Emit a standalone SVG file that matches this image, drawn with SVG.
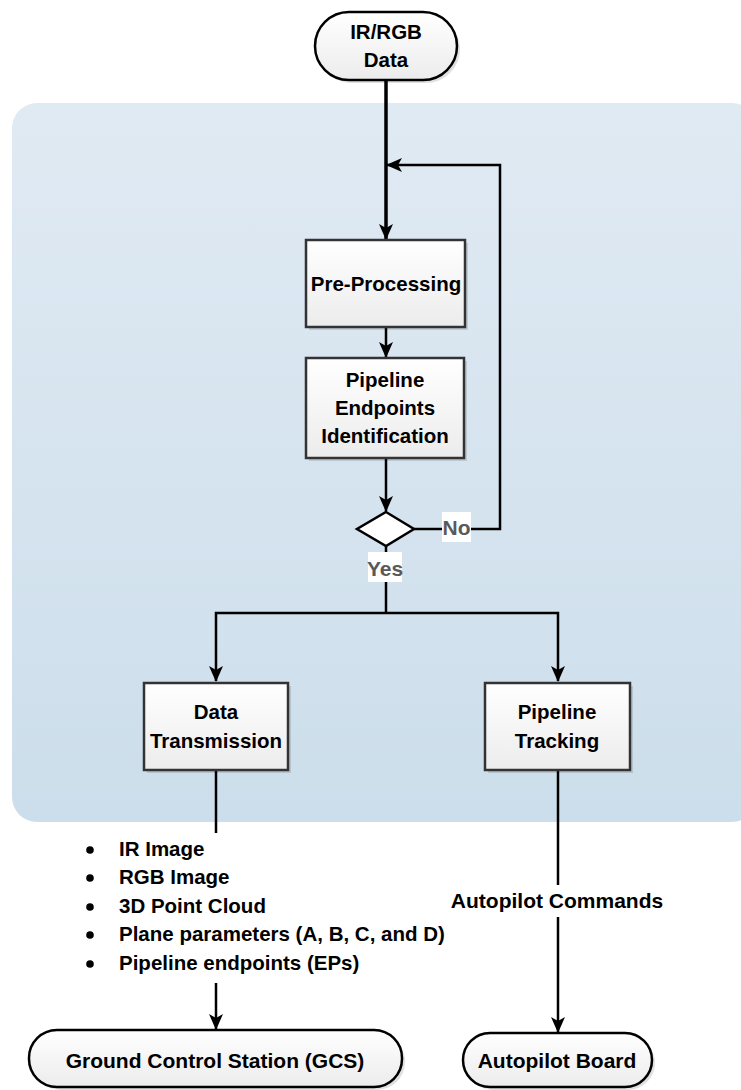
<svg xmlns="http://www.w3.org/2000/svg" width="741" height="1090" viewBox="0 0 741 1090">
  <defs>
    <linearGradient id="panelFill" x1="0" y1="0" x2="0" y2="1">
      <stop offset="0" stop-color="#e0eaf3"/>
      <stop offset="1" stop-color="#ccdeeb"/>
    </linearGradient>
    <linearGradient id="nodeFill" x1="0" y1="0" x2="0" y2="1">
      <stop offset="0" stop-color="#ffffff"/>
      <stop offset="1" stop-color="#ececec"/>
    </linearGradient>
    <marker id="arrow" markerUnits="userSpaceOnUse" markerWidth="16" markerHeight="14" viewBox="0 0 16 14" refX="15" refY="7" orient="auto">
      <path d="M0,0 L16,7 L0,14 L4,7 Z" fill="#000"/>
    </marker>
  </defs>
  <style>
    .box { fill: url(#nodeFill); stroke: #333; stroke-width: 2.5; }
    .term { fill: url(#nodeFill); stroke: #000; stroke-width: 2.5; }
    .shadow { fill: #000; opacity: 0.12; }
    .label { font-family: "Liberation Sans", Arial, sans-serif; font-weight: bold; font-size: 20.5px; fill: #000; text-anchor: middle; }
    .big { font-size: 21px; }
    .cond { font-family: "Liberation Sans", Arial, sans-serif; font-weight: bold; font-size: 21px; fill: #595959; text-anchor: middle; }
    .list { font-family: "Liberation Sans", Arial, sans-serif; font-weight: bold; font-size: 20.5px; fill: #000; }
    .wire { fill: none; stroke: #000; stroke-width: 2.5; }
    .wire-thick { fill: none; stroke: #000; stroke-width: 3.5; }
  </style>

  <!-- processing area background -->
  <rect id="panel" x="12" y="103" width="745" height="719" rx="25" ry="25" fill="url(#panelFill)"/>

  <!-- connectors -->
  <g id="connectors">
    <line class="wire-thick" x1="386" y1="80" x2="386" y2="239" marker-end="url(#arrow)"/>
    <polyline class="wire" points="414,529 500,529 500,165 387,165" marker-end="url(#arrow)"/>
    <line class="wire" x1="386" y1="327" x2="386" y2="357" marker-end="url(#arrow)"/>
    <line class="wire" x1="386" y1="458" x2="386" y2="511" marker-end="url(#arrow)"/>
    <line class="wire" x1="386" y1="546" x2="386" y2="613"/>
    <polyline class="wire" points="386,613 216,613 216,681" marker-end="url(#arrow)"/>
    <polyline class="wire" points="386,613 558,613 558,681" marker-end="url(#arrow)"/>
    <line class="wire" x1="216" y1="770" x2="216" y2="833"/>
    <line class="wire" x1="216" y1="983" x2="216" y2="1029" marker-end="url(#arrow)"/>
    <line class="wire" x1="558" y1="770" x2="558" y2="885"/>
    <line class="wire" x1="558" y1="917" x2="558" y2="1032" marker-end="url(#arrow)"/>
    <!-- branch labels -->
    <rect x="442" y="512" width="29" height="30" fill="#fff"/>
    <text class="cond" x="456.5" y="535">No</text>
    <rect x="368" y="552" width="34" height="30" fill="#fff"/>
    <text class="cond" x="385" y="576">Yes</text>
    <text class="label big" x="557" y="908">Autopilot Commands</text>
  </g>

  <g id="input">
    <rect class="shadow" x="318" y="15" width="142" height="68" rx="34"/>
    <rect class="term" x="315" y="12" width="142" height="68" rx="34"/>
    <text class="label" x="386" y="39">IR/RGB</text>
    <text class="label" x="386" y="67">Data</text>
  </g>

  <g id="preprocessing">
    <rect class="shadow" x="309" y="243" width="159" height="87"/>
    <rect class="box" x="306" y="240" width="159" height="87"/>
    <text class="label" x="386" y="291">Pre-Processing</text>
  </g>

  <g id="endpoints">
    <rect class="shadow" x="309" y="361" width="158" height="100"/>
    <rect class="box" x="306" y="358" width="158" height="100"/>
    <text class="label" x="385" y="387">Pipeline</text>
    <text class="label" x="385" y="415">Endpoints</text>
    <text class="label" x="385" y="443">Identification</text>
  </g>

  <g id="decision">
    <polygon points="386,512 414,529 386,546 357,529" fill="#fff" stroke="#000" stroke-width="2.5"/>
  </g>

  <g id="transmission">
    <rect class="shadow" x="147" y="686" width="144" height="87"/>
    <rect class="box" x="144" y="683" width="144" height="87"/>
    <text class="label" x="216" y="719">Data</text>
    <text class="label" x="216" y="748">Transmission</text>
  </g>

  <g id="tracking">
    <rect class="shadow" x="488" y="686" width="145" height="87"/>
    <rect class="box" x="485" y="683" width="145" height="87"/>
    <text class="label" x="557" y="719">Pipeline</text>
    <text class="label" x="557" y="748">Tracking</text>
  </g>

  <g id="payload">
    <circle cx="90" cy="850" r="3.8"/>
    <circle cx="90" cy="878" r="3.8"/>
    <circle cx="90" cy="907" r="3.8"/>
    <circle cx="90" cy="935" r="3.8"/>
    <circle cx="90" cy="964" r="3.8"/>
    <text class="list" x="119" y="856">IR Image</text>
    <text class="list" x="119" y="884">RGB Image</text>
    <text class="list" x="119" y="913">3D Point Cloud</text>
    <text class="list" x="119" y="941">Plane parameters (A, B, C, and D)</text>
    <text class="list" x="119" y="970">Pipeline endpoints (EPs)</text>
  </g>

  <g id="gcs">
    <rect class="shadow" x="32" y="1033" width="373" height="57" rx="28"/>
    <rect class="term" x="29" y="1030" width="373" height="57" rx="28"/>
    <text class="label big" x="215" y="1068">Ground Control Station (GCS)</text>
  </g>

  <g id="autopilot">
    <rect class="shadow" x="466" y="1036" width="189" height="54" rx="27"/>
    <rect class="term" x="463" y="1033" width="189" height="54" rx="27"/>
    <text class="label big" x="557" y="1068">Autopilot Board</text>
  </g>
</svg>
